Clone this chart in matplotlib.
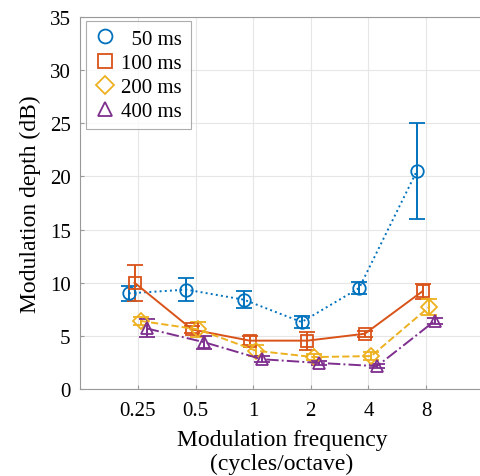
import numpy as np
import matplotlib
matplotlib.use("Agg")
import matplotlib.pyplot as plt
from matplotlib.lines import Line2D

plt.rcParams["font.family"] = ["Liberation Serif", "DejaVu Serif"]

freqs = [0.25, 0.5, 1, 2, 4, 8]
freq_labels = ["0.25", "0.5", "1", "2", "4", "8"]

depth_50 = [9.0, 9.35, 8.4, 6.3, 9.5, 20.5]
err_50 = [0.7, 1.1, 0.8, 0.6, 0.6, 4.5]
depth_100 = [10.0, 5.6, 4.55, 4.55, 5.2, 9.2]
err_100 = [1.7, 0.3, 0.4, 0.85, 0.3, 0.7]
depth_200 = [6.4, 5.6, 3.6, 3.0, 3.1, 7.7]
err_200 = [0.4, 0.7, 0.5, 0.3, 0.4, 0.75]
depth_400 = [5.7, 4.4, 2.8, 2.45, 2.15, 6.4]
err_400 = [0.85, 0.6, 0.3, 0.2, 0.2, 0.3]

series = [
    ("  50 ms", depth_50, err_50, "#0072BD", "o", ":", -0.16),
    ("100 ms", depth_100, err_100, "#D95319", "s", "-", -0.06),
    ("200 ms", depth_200, err_200, "#EDB120", "D", "--", 0.05),
    ("400 ms", depth_400, err_400, "#7E2F8E", "^", "-.", 0.15),
]

fig = plt.figure(figsize=(4.81, 4.77), dpi=100)
ax = fig.add_axes([80.4 / 481, 87 / 477, 403.2 / 481, 372 / 477])

handles = []
for label, y, e, col, mk, ls, off in series:
    x = np.array(freqs) * 2 ** off
    ms = 8 if mk == "D" else 9
    ax.errorbar(x, y, yerr=e, color=col, marker=mk, linestyle=ls, linewidth=1.4,
                markersize=ms, markerfacecolor="none", markeredgewidth=1.3,
                capsize=6, capthick=1.4, elinewidth=1.4)
    handles.append(Line2D([], [], color=col, marker=mk, linestyle="none",
                          markersize=ms + 1, markerfacecolor="none",
                          markeredgewidth=1.3, label=label))

ax.set_xscale("log", base=2)
ax.set_xlim(0.125, 16)
ax.set_xticks(freqs)
ax.set_xticklabels(freq_labels)
ax.minorticks_off()
ax.set_ylim(0, 35)
ax.set_yticks(np.arange(0, 36, 5))
ax.grid(True, color="#e6e6e6", linewidth=0.8)
ax.set_axisbelow(True)
ax.tick_params(direction="in", labelsize=15, color="#999999", length=3)
ax.tick_params(axis="x", pad=9)
ax.tick_params(axis="y", pad=7)
for sp in ax.spines.values():
    sp.set_color("#999999")

ax.set_ylabel("Modulation depth (dB)", fontsize=17, labelpad=6)
ax.set_xlabel("Modulation frequency\n(cycles/octave)", fontsize=17, linespacing=1.2,
              labelpad=6)

leg = ax.legend(handles=handles, loc="upper left", fontsize=15, fancybox=False,
                edgecolor="#999999", handlelength=1.0, handletextpad=0.3,
                borderpad=0.4, labelspacing=0.22, borderaxespad=0,
                bbox_to_anchor=(0.014, 0.99))
leg.get_frame().set_linewidth(0.8)

fig.savefig("out.png", dpi=100)
